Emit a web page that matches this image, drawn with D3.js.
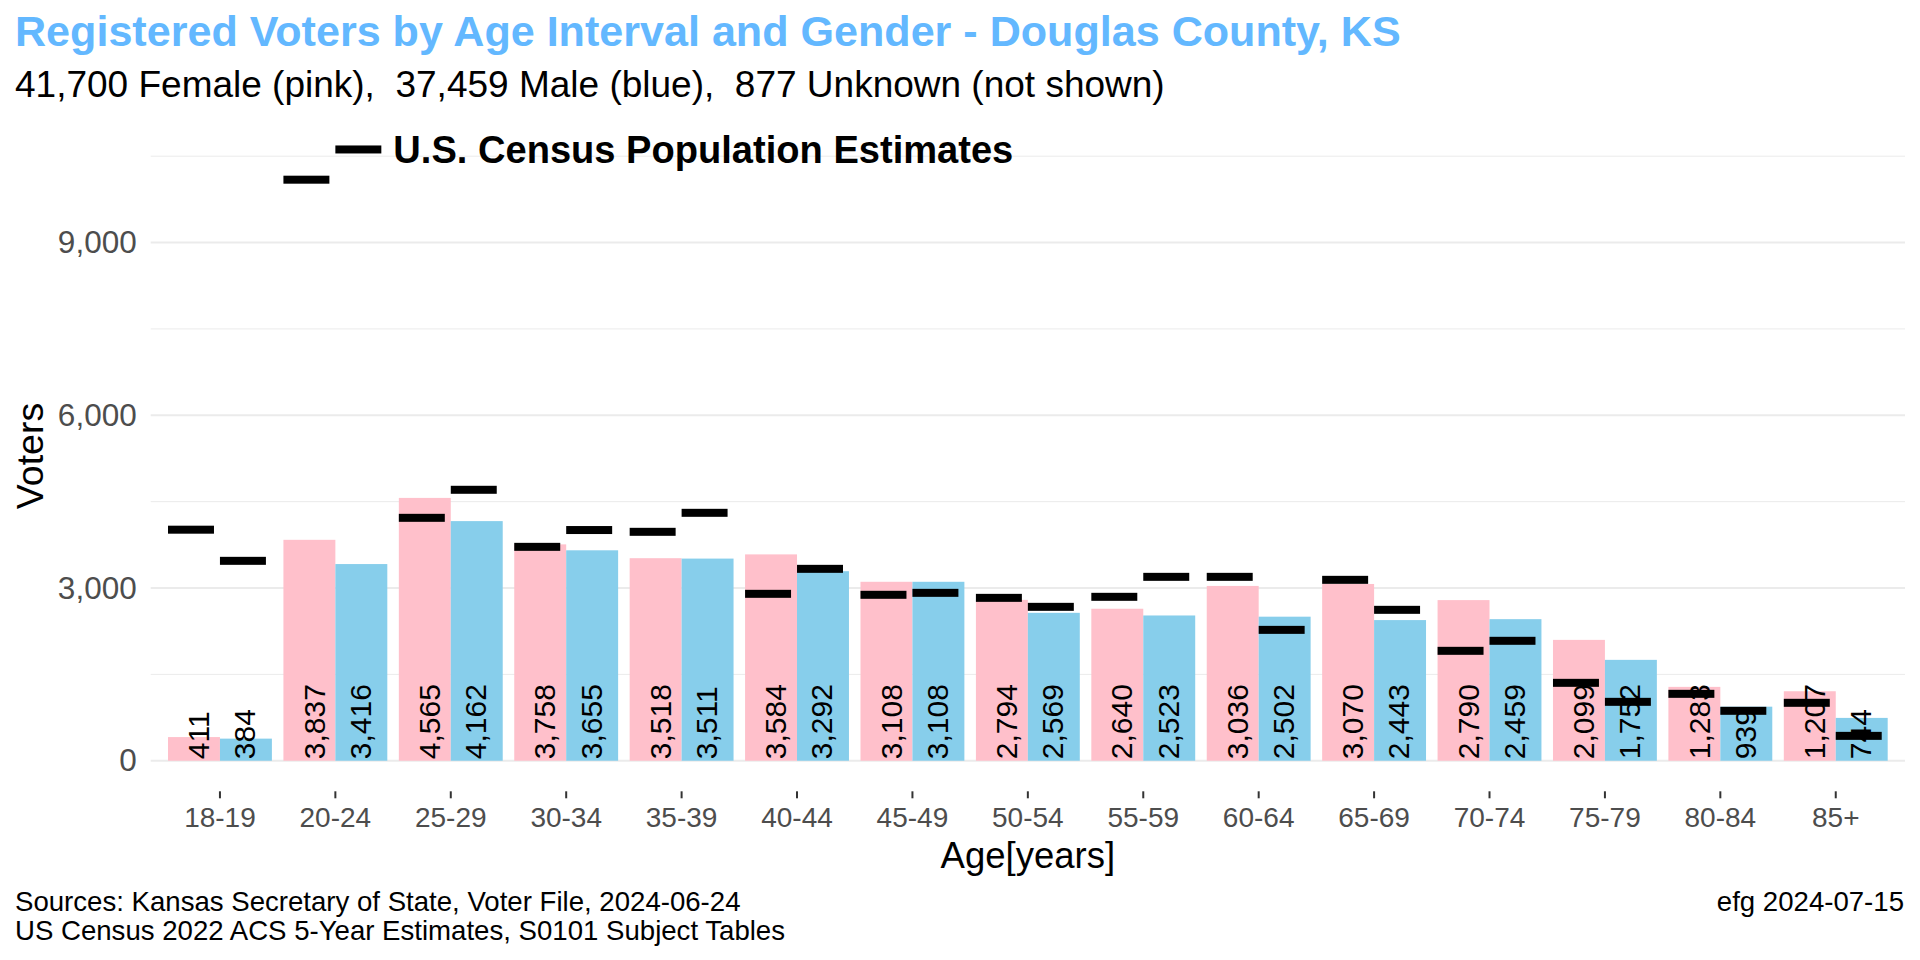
<!DOCTYPE html>
<html>
<head>
<meta charset="utf-8">
<script src="https://cdn.jsdelivr.net/npm/d3@7"></script>
<style>
  body { margin: 0; background: #fff; }
  svg text { font-family: "Liberation Sans", Arial, sans-serif; }
</style>
</head>
<body>
<div class="canvas"></div>
<script>
// data
const ages = ['18-19','20-24','25-29','30-34','35-39','40-44','45-49','50-54',
              '55-59','60-64','65-69','70-74','75-79','80-84','85+'];
const female = [411, 3837, 4565, 3758, 3518, 3584, 3108, 2794, 2640, 3036, 3070, 2790, 2099, 1283, 1207];
const male   = [384, 3416, 4162, 3655, 3511, 3292, 3108, 2569, 2523, 2502, 2443, 2459, 1752, 939, 744];
const censusFemale = [4013, 10092, 4219, 3715, 3976, 2899, 2882, 2829, 2847, 3194, 3142, 1909, 1353, 1162, 1006];
const censusMale   = [3472, 10617, 4706, 4007, 4306, 3333, 2916, 2673, 3194, 2273, 2621, 2083, 1023, 867, 432];
const yMajor = [0, 3000, 6000, 9000];
const yMinor = [1500, 4500, 7500, 10500];
const genders = ['F', 'M'];

const width = 1920, height = 960;
const panel = {left: 150.7, right: 1905, top: 118.9, bottom: 791.3};

const svg = d3.select('.canvas')
    .append('svg')
    .attr('width', width)
    .attr('height', height);

const bars = [];
ages.forEach((a, i) => {
    bars.push({age: a, g: 'F', value: female[i], census: censusFemale[i]});
    bars.push({age: a, g: 'M', value: male[i], census: censusMale[i]});
});

// scales
const x = d3.scaleBand()
    .domain(ages)
    .range([panel.left, panel.right])
    .paddingInner(0)
    .paddingOuter(0.1);

// bars dodged at 0.9, labels dodged a bit narrower (0.8)
const xSub = d3.scaleBand()
    .domain(genders)
    .range([0, x.bandwidth()])
    .paddingInner(0)
    .paddingOuter(0.111);

const xLab = d3.scalePoint()
    .domain(genders)
    .range([x.bandwidth() * 0.3, x.bandwidth() * 0.7]);

const yMax = d3.max(bars, d => Math.max(d.value, d.census));
const y = d3.scaleLinear()
    .domain([-0.05 * yMax, 1.05 * yMax])
    .range([panel.bottom, panel.top]);

const fill = {F: '#FFC0CB', M: '#87CEEB'};

// grid
svg.append('g').selectAll('line').data(yMinor).enter().append('line')
    .attr('x1', panel.left).attr('x2', panel.right)
    .attr('y1', d => y(d)).attr('y2', d => y(d))
    .attr('stroke', '#EBEBEB').attr('stroke-width', 1);
svg.append('g').selectAll('line').data(yMajor).enter().append('line')
    .attr('x1', panel.left).attr('x2', panel.right)
    .attr('y1', d => y(d)).attr('y2', d => y(d))
    .attr('stroke', '#EBEBEB').attr('stroke-width', 2);

// bars
svg.append('g').selectAll('rect').data(bars).enter().append('rect')
    .attr('x', d => x(d.age) + xSub(d.g))
    .attr('width', xSub.bandwidth())
    .attr('y', d => y(d.value))
    .attr('height', d => y(0) - y(d.value))
    .attr('fill', d => fill[d.g]);

// value labels, rotated
svg.append('g').selectAll('text').data(bars).enter().append('text')
    .attr('transform', d => `translate(${x(d.age) + xLab(d.g)},${y(0) - 1.5}) rotate(-90)`)
    .attr('dy', '0.41em')
    .attr('font-size', 30)
    .attr('fill', '#000')
    .text(d => d3.format(',')(d.value));

// census markers
const markW = xSub.bandwidth() * 0.885;
svg.append('g').selectAll('rect').data(bars).enter().append('rect')
    .attr('x', d => x(d.age) + xSub(d.g))
    .attr('width', markW)
    .attr('y', d => y(d.census) - 4)
    .attr('height', 8)
    .attr('fill', '#000');

// census annotation next to the tallest marker
const peak = bars.find(d => d.census === yMax);
svg.append('text')
    .attr('x', x(peak.age) + xSub(peak.g) + markW + 12)
    .attr('y', y(peak.census))
    .attr('dy', '0.36em')
    .attr('font-size', 38.1)
    .attr('font-weight', 'bold')
    .attr('fill', '#000')
    .text('U.S. Census Population Estimates');

// axes
const xAxis = d3.axisBottom(x).tickSizeInner(7).tickSizeOuter(0).tickPadding(9);
const xAxisGroup = svg.append('g').attr('transform', `translate(0,${panel.bottom})`).call(xAxis);
xAxisGroup.select('.domain').remove();
xAxisGroup.selectAll('line').attr('stroke', '#333').attr('stroke-width', 2);
xAxisGroup.selectAll('text').attr('font-size', 28).attr('fill', '#4D4D4D')
    .attr('font-family', '"Liberation Sans", Arial, sans-serif');

const yAxis = d3.axisLeft(y).tickValues(yMajor).tickSize(0).tickPadding(14)
    .tickFormat(d3.format(','));
const yAxisGroup = svg.append('g').attr('transform', `translate(${panel.left},0)`).call(yAxis);
yAxisGroup.select('.domain').remove();
yAxisGroup.selectAll('text').attr('font-size', 31.5).attr('fill', '#4D4D4D')
    .attr('font-family', '"Liberation Sans", Arial, sans-serif');

// titles
svg.append('text')
    .attr('x', 15).attr('y', 46)
    .attr('font-size', 43.1).attr('font-weight', 'bold').attr('fill', '#63B8FF')
    .text('Registered Voters by Age Interval and Gender - Douglas County, KS');

svg.append('text')
    .attr('x', 15).attr('y', 97)
    .attr('font-size', 37).attr('fill', '#000')
    .style('white-space', 'pre')
    .text('41,700 Female (pink),  37,459 Male (blue),  877 Unknown (not shown)');

svg.append('text')
    .attr('x', (panel.left + panel.right) / 2).attr('y', 868)
    .attr('text-anchor', 'middle')
    .attr('font-size', 36.5).attr('fill', '#000')
    .text('Age[years]');

svg.append('text')
    .attr('transform', `translate(43,456) rotate(-90)`)
    .attr('text-anchor', 'middle')
    .attr('font-size', 37.5).attr('fill', '#000')
    .text('Voters');

// captions
svg.append('text')
    .attr('x', 15).attr('y', 911)
    .attr('font-size', 27.6).attr('fill', '#000')
    .text('Sources: Kansas Secretary of State, Voter File, 2024-06-24');
svg.append('text')
    .attr('x', 15).attr('y', 940)
    .attr('font-size', 27.6).attr('fill', '#000')
    .text('US Census 2022 ACS 5-Year Estimates, S0101 Subject Tables');
svg.append('text')
    .attr('x', 1904).attr('y', 911)
    .attr('text-anchor', 'end')
    .attr('font-size', 27.6).attr('fill', '#000')
    .text('efg 2024-07-15');
</script>
</body>
</html>
